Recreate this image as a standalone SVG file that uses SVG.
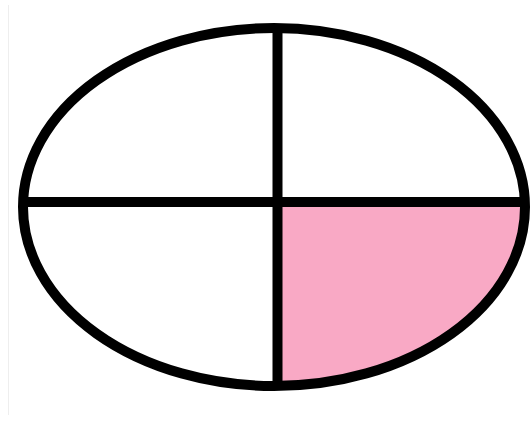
<svg xmlns="http://www.w3.org/2000/svg" width="532" height="423" viewBox="0 0 532 423">
<style>
.ln{stroke:#000;fill:none;stroke-width:10}
</style>
<rect width="532" height="423" fill="#fff"/>
<line x1="8.5" y1="5" x2="8.5" y2="415" stroke="#eeeeee" stroke-width="1"/>
<g id="quarter">
<path d="M277.5,202 H525 A251,179 0 0 1 277.5,386 Z" fill="#f9a9c5"/>
</g>
<g id="ellipse">
<ellipse class="ln" cx="274" cy="207" rx="251" ry="179" stroke-width="11"/>
</g>
<g id="connectors">
<line class="ln" x1="277.5" y1="28" x2="277.5" y2="386" stroke-width="11"/>
<line class="ln" x1="22" y1="202" x2="526" y2="202" stroke-width="10"/>
</g>
</svg>
